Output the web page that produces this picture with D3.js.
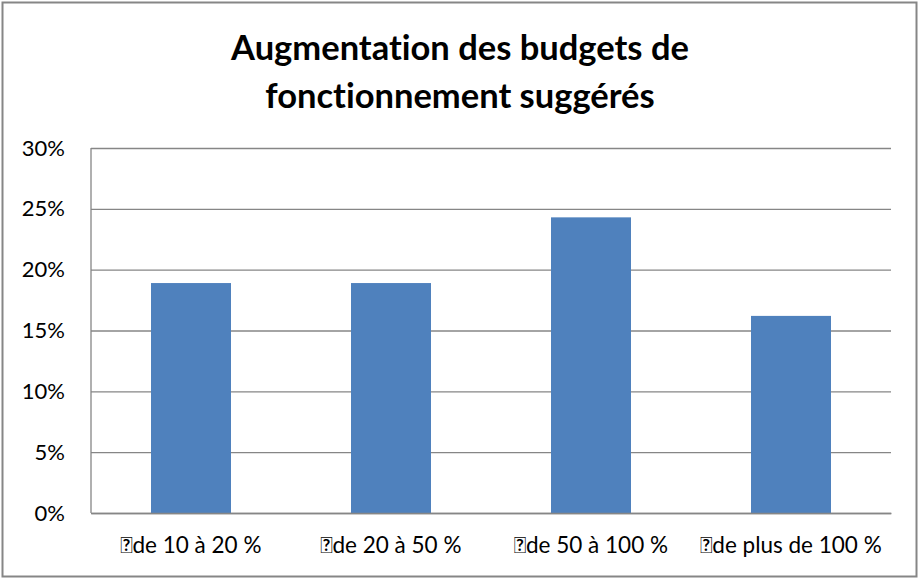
<!DOCTYPE html>
<html>
<head>
<meta charset="utf-8">
<script src="https://cdn.jsdelivr.net/npm/d3@7"></script>
<style>
  body { margin: 0; background: #fff; }
  svg text { font-family: Lato, "Open Sans", sans-serif; fill: #000; font-variant-ligatures: none; }
</style>
</head>
<body>
<div class="chart"></div>
<script>
// Chart data
var titleLines = ["Augmentation des budgets de", "fonctionnement suggérés"];
var categories = ["\uF0B3de 10 à 20 %", "\uF0B3de 20 à 50 %", "\uF0B3de 50 à 100 %", "\uF0B3de plus de 100 %"];
var values = [0.189, 0.189, 0.243, 0.162];
var yTicks = [0, 0.05, 0.10, 0.15, 0.20, 0.25, 0.30];

var width = 919, height = 579;
var margin = {top: 148, right: 28, bottom: 66, left: 91};

var svg = d3.select(".chart").append("svg")
    .attr("width", width)
    .attr("height", height);

// Outer frame
svg.append("rect")
    .attr("x", 2.5).attr("y", 2.5)
    .attr("width", width - 5).attr("height", height - 5)
    .attr("fill", "#fff")
    .attr("stroke", "#868686")
    .attr("stroke-width", 2);

var x = d3.scaleBand()
    .domain(categories)
    .range([margin.left, width - margin.right])
    .paddingInner(0.6)
    .paddingOuter(0.3);

var y = d3.scaleLinear()
    .domain([0, 0.30])
    .range([height - margin.bottom, margin.top]);

/**
 * Gridlines + y axis labels
 */
svg.append("g")
    .attr("transform", "translate(" + margin.left + ",0)")
    .call(d3.axisLeft(y)
        .tickValues(yTicks)
        .tickSize(-(width - margin.left - margin.right))
        .tickPadding(26)
        .tickFormat(d3.format(".0%")))
    .call(function(g) {
        g.select(".domain").remove();
        g.selectAll(".tick line").attr("stroke", "#868686").attr("stroke-width", 1.3);
        g.selectAll(".tick text")
            .attr("font-size", 22)
            .attr("font-family", "Lato, sans-serif")
            .attr("fill", "#000");
    });

// Vertical axis line
svg.append("line")
    .attr("x1", margin.left).attr("x2", margin.left)
    .attr("y1", margin.top).attr("y2", height - margin.bottom)
    .attr("stroke", "#868686").attr("stroke-width", 1.3);

// Bars
svg.selectAll(".bar")
    .data(values)
    .enter().append("rect")
    .attr("class", "bar")
    .attr("x", function(d, i) { return x(categories[i]); })
    .attr("y", function(d) { return y(d); })
    .attr("width", x.bandwidth())
    .attr("height", function(d) { return y(0) - y(d); })
    .attr("fill", "#4f81bd");

// Category axis
svg.append("g")
    .attr("transform", "translate(0," + (height - margin.bottom) + ")")
    .call(d3.axisBottom(x).tickSize(0).tickPadding(24))
    .call(function(g) {
        g.select(".domain").attr("stroke", "#868686").attr("stroke-width", 1.3);
        g.selectAll(".tick text")
            .attr("font-size", 22.5)
            .attr("font-family", "Lato, sans-serif")
            .attr("fill", "#000");
    });

// Title
svg.append("text")
    .attr("x", 460)
    .attr("text-anchor", "middle")
    .attr("font-size", 34.5)
    .attr("font-weight", "bold")
    .selectAll("tspan")
    .data(titleLines)
    .enter().append("tspan")
    .attr("x", 460)
    .attr("y", function(d, i) { return 60 + i * 48; })
    .text(function(d) { return d; });
</script>
</body>
</html>
